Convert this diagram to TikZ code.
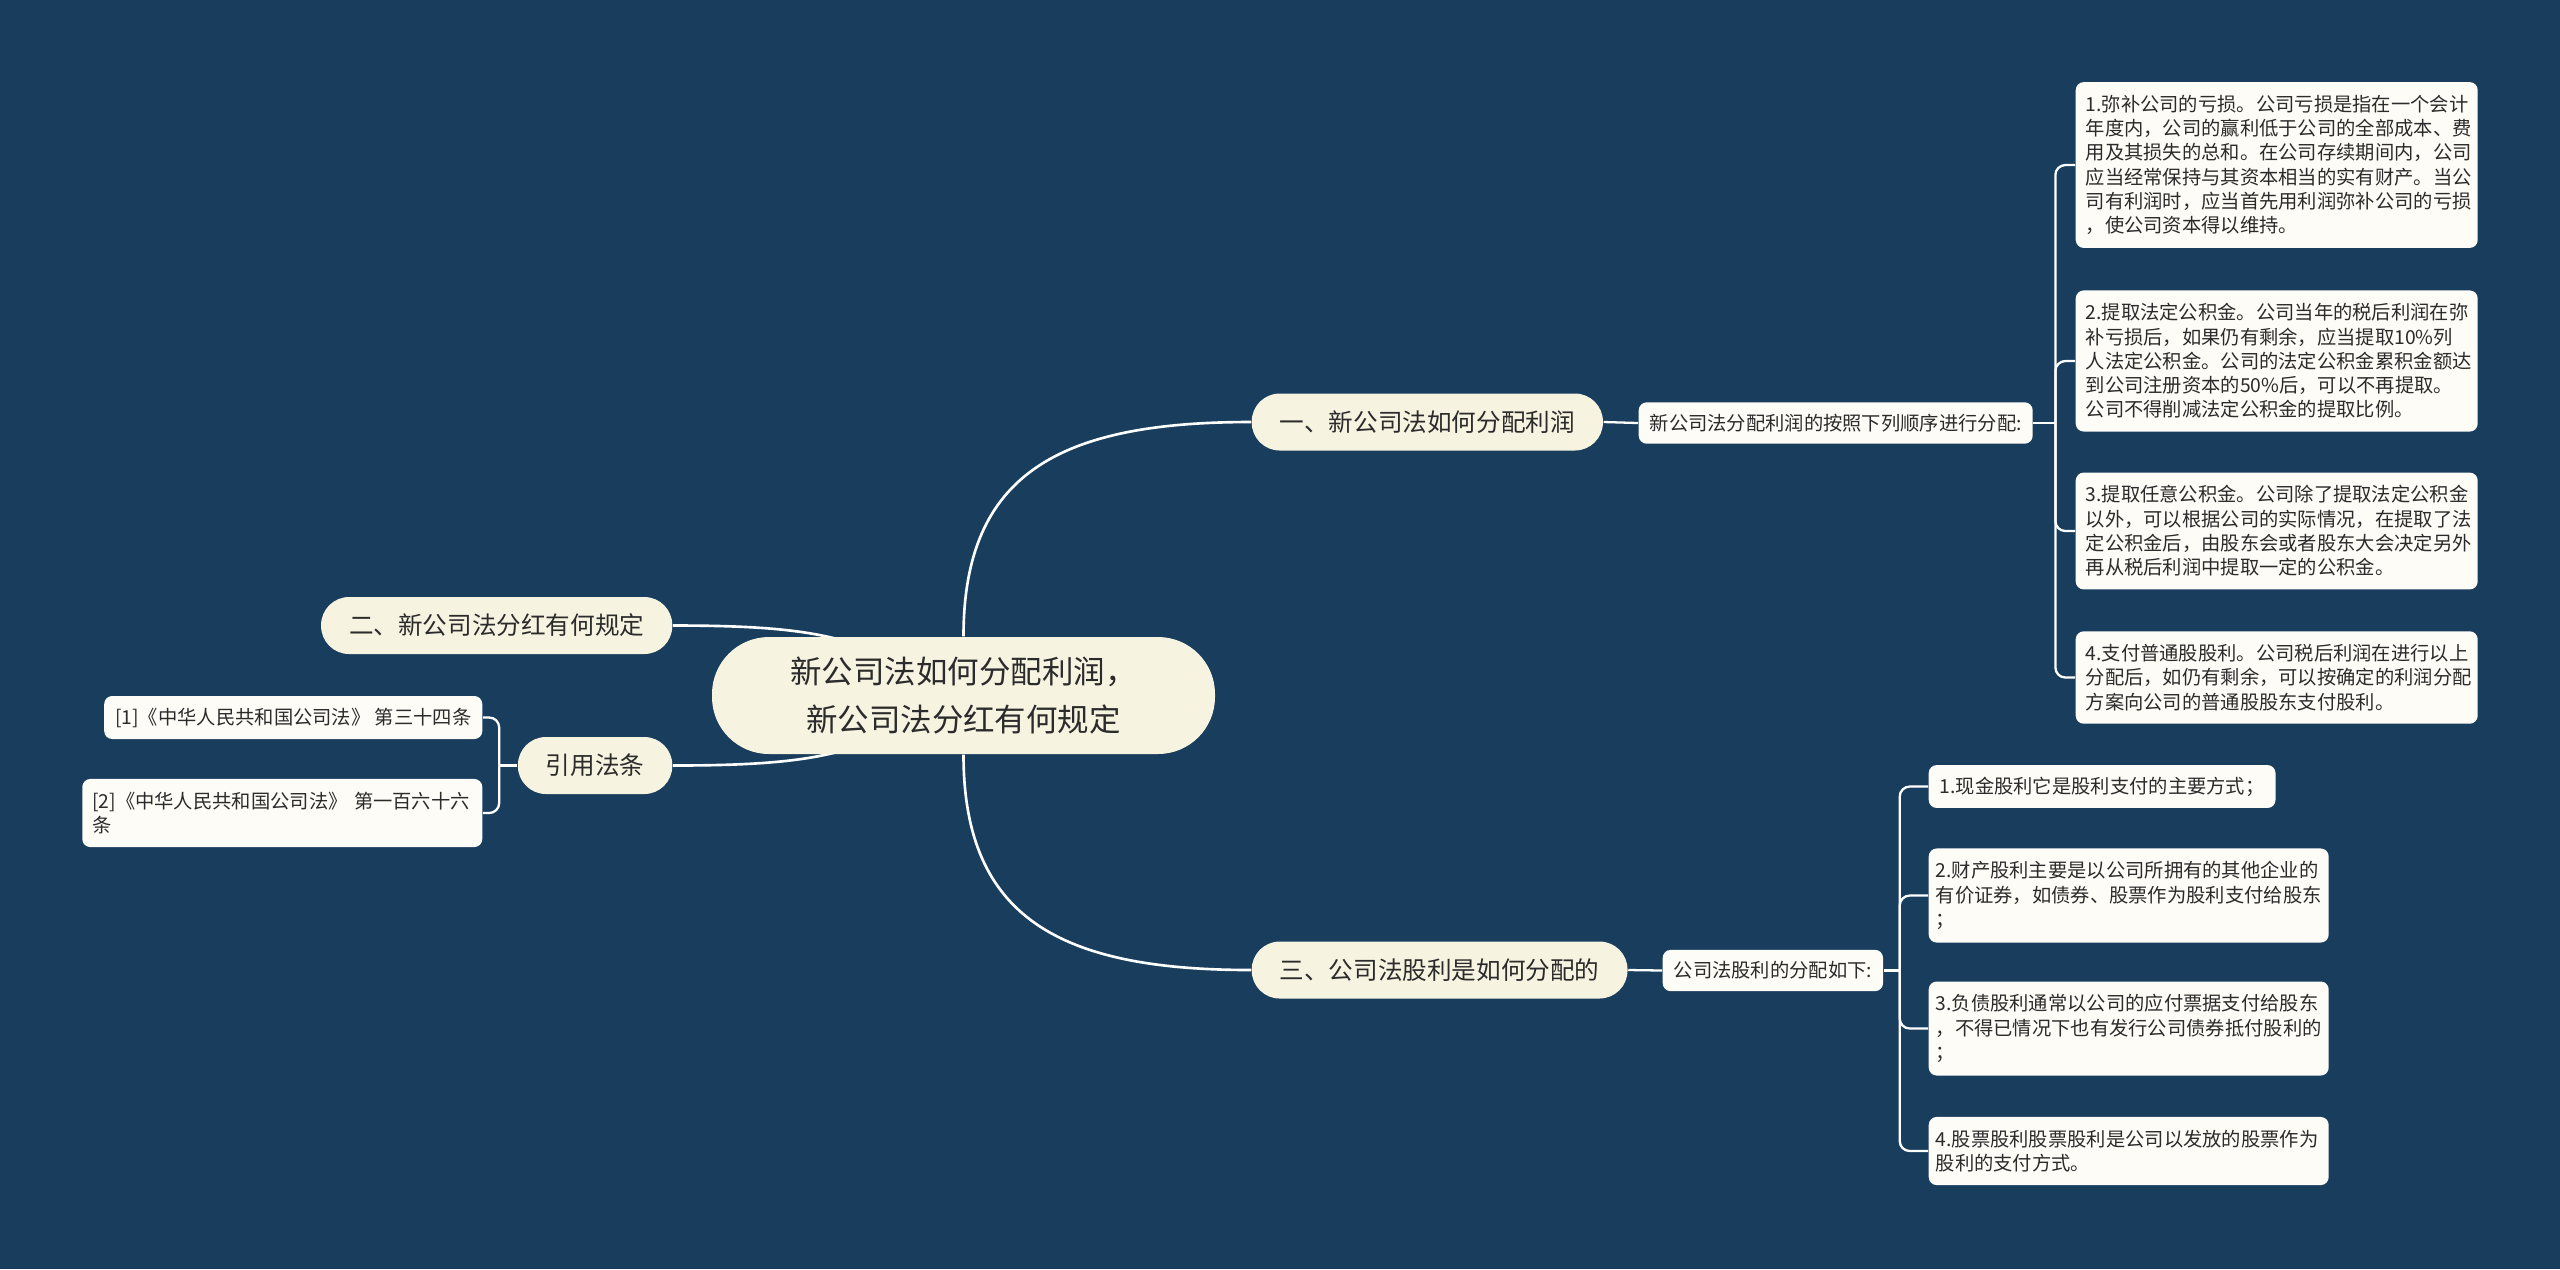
\documentclass[tikz,border=0pt]{standalone}
\usepackage{fontspec}
\usepackage{xcolor}
\usepackage{tikz}
\usetikzlibrary{positioning,calc}

\newfontfamily\cjk{Noto Sans CJK SC}
\definecolor{bgblue}{HTML}{183D5D}
\definecolor{cream}{HTML}{F7F3E1}
\definecolor{paper}{HTML}{FDFCF6}
\definecolor{ink}{HTML}{2B2B2B}
\newcommand{\rootfont}{\cjk\fontsize{8.96}{13.4}\selectfont}
\newcommand{\topicfont}{\cjk\fontsize{7.0}{8.4}\selectfont}
\newcommand{\leaffont}{\cjk\fontsize{5.49}{6.91}\selectfont}
\pgfdeclarelayer{back}
\pgfsetlayers{back,main}

\begin{document}
\begin{tikzpicture}[
    every node/.style={text=ink},
    hub/.style={fill=cream, rounded corners=0.57cm, minimum width=5.03cm, minimum height=1.17cm, align=center, font=\rootfont},
    topic/.style={fill=cream, rounded corners=0.28cm, minimum height=0.57cm, inner xsep=0.28cm, font=\topicfont},
    leaf/.style={fill=paper, rounded corners=0.08cm, align=left, inner xsep=0.1cm, inner ysep=0.13cm, font=\leaffont},
    tag/.style={fill=paper, rounded corners=0.08cm, inner xsep=0.11cm, minimum height=0.4cm, font=\leaffont},
    trunk/.style={draw=white, line width=0.75pt},
    twig/.style={draw=white, line width=0.65pt, rounded corners=0.1cm}
]
\useasboundingbox (0,0) rectangle (25.6,-12.69);
\begin{pgfonlayer}{back}
\fill[bgblue] (0,0) rectangle (25.6,-12.69);
\end{pgfonlayer}

% Centre
\node[hub] (root) at (9.635,-6.955) {新公司法如何分配利润，\\新公司法分红有何规定};

% Main topics
\node[topic, anchor=west] (b1) at (12.51,-4.22) {一、新公司法如何分配利润};
\node[topic, anchor=west] (b3) at (12.51,-9.70) {三、公司法股利是如何分配的};
\node[topic, anchor=east] (b2) at (6.73,-6.255) {二、新公司法分红有何规定};
\node[topic, anchor=east] (ref) at (6.73,-7.655) {引用法条};

% Right side, first topic
\node[tag, anchor=west] (m1) at (16.38,-4.23) {新公司法分配利润的按照下列顺序进行分配:};
\node[leaf, anchor=west, text width=3.82cm] (c1) at (20.75,-1.65) {1.弥补公司的亏损。公司亏损是指在一个会计\\年度内，公司的赢利低于公司的全部成本、费\\用及其损失的总和。在公司存续期间内，公司\\应当经常保持与其资本相当的实有财产。当公\\司有利润时，应当首先用利润弥补公司的亏损\\，使公司资本得以维持。};
\node[leaf, anchor=west, text width=3.82cm] (c2) at (20.75,-3.61) {2.提取法定公积金。公司当年的税后利润在弥\\补亏损后，如果仍有剩余，应当提取10\%列\\人法定公积金。公司的法定公积金累积金额达\\到公司注册资本的50\%后，可以不再提取。\\公司不得削减法定公积金的提取比例。};
\node[leaf, anchor=west, text width=3.82cm] (c3) at (20.75,-5.31) {3.提取任意公积金。公司除了提取法定公积金\\以外，可以根据公司的实际情况，在提取了法\\定公积金后，由股东会或者股东大会决定另外\\再从税后利润中提取一定的公积金。};
\node[leaf, anchor=west, text width=3.82cm] (c4) at (20.75,-6.775) {4.支付普通股股利。公司税后利润在进行以上\\分配后，如仍有剩余，可以按确定的利润分配\\方案向公司的普通股股东支付股利。};

% Right side, third topic
\node[tag, anchor=west] (m2) at (16.62,-9.705) {公司法股利的分配如下:};
\node[tag, anchor=west] (d1) at (19.28,-7.865) {1.现金股利它是股利支付的主要方式；};
\node[leaf, anchor=west, inner xsep=0.07cm, text width=3.86cm] (d2) at (19.28,-8.955) {2.财产股利主要是以公司所拥有的其他企业的\\有价证券，如债券、股票作为股利支付给股东\\；};
\node[leaf, anchor=west, inner xsep=0.07cm, text width=3.86cm] (d3) at (19.28,-10.285) {3.负债股利通常以公司的应付票据支付给股东\\，不得已情况下也有发行公司债券抵付股利的\\；};
\node[leaf, anchor=west, inner xsep=0.07cm, text width=3.86cm] (d4) at (19.28,-11.51) {4.股票股利股票股利是公司以发放的股票作为\\股利的支付方式。};

% Left side, cited articles
\node[tag, anchor=east] (l1) at (4.83,-7.175) {[1]《中华人民共和国公司法》 第三十四条};
\node[leaf, anchor=east, text width=3.8cm] (l2) at (4.83,-8.13) {[2]《中华人民共和国公司法》 第一百六十六\\条};

% Connectors
\begin{pgfonlayer}{back}
\draw[trunk] (root.north) .. controls +(0,1.64) and +(-1.9,0) .. (b1.west);
\draw[trunk] (root.south) .. controls +(0,-1.64) and +(-1.9,0) .. (b3.west);
\draw[trunk] (b2.east) .. controls +(1.6,0) and +(-1.0,0.55) .. (root.center);
\draw[trunk] (ref.east) .. controls +(1.6,0) and +(-1.0,-0.55) .. (root.center);
\end{pgfonlayer}
\draw[twig] (b1.east) -- (m1.west);
\draw[twig] (b3.east) -- (m2.west);
\draw[twig] (m1.east) -- ++(0.22,0) coordinate (s1);
\foreach \c in {c1,c2,c3,c4}
    \draw[twig] (s1) |- (\c.west);
\draw[twig] (m2.east) -- ++(0.16,0) coordinate (s2);
\foreach \d in {d1,d2,d3,d4}
    \draw[twig] (s2) |- (\d.west);
\draw[twig] (ref.west) -- ++(-0.18,0) coordinate (s3);
\foreach \l in {l1,l2}
    \draw[twig] (s3) |- (\l.east);
\end{tikzpicture}
\end{document}
